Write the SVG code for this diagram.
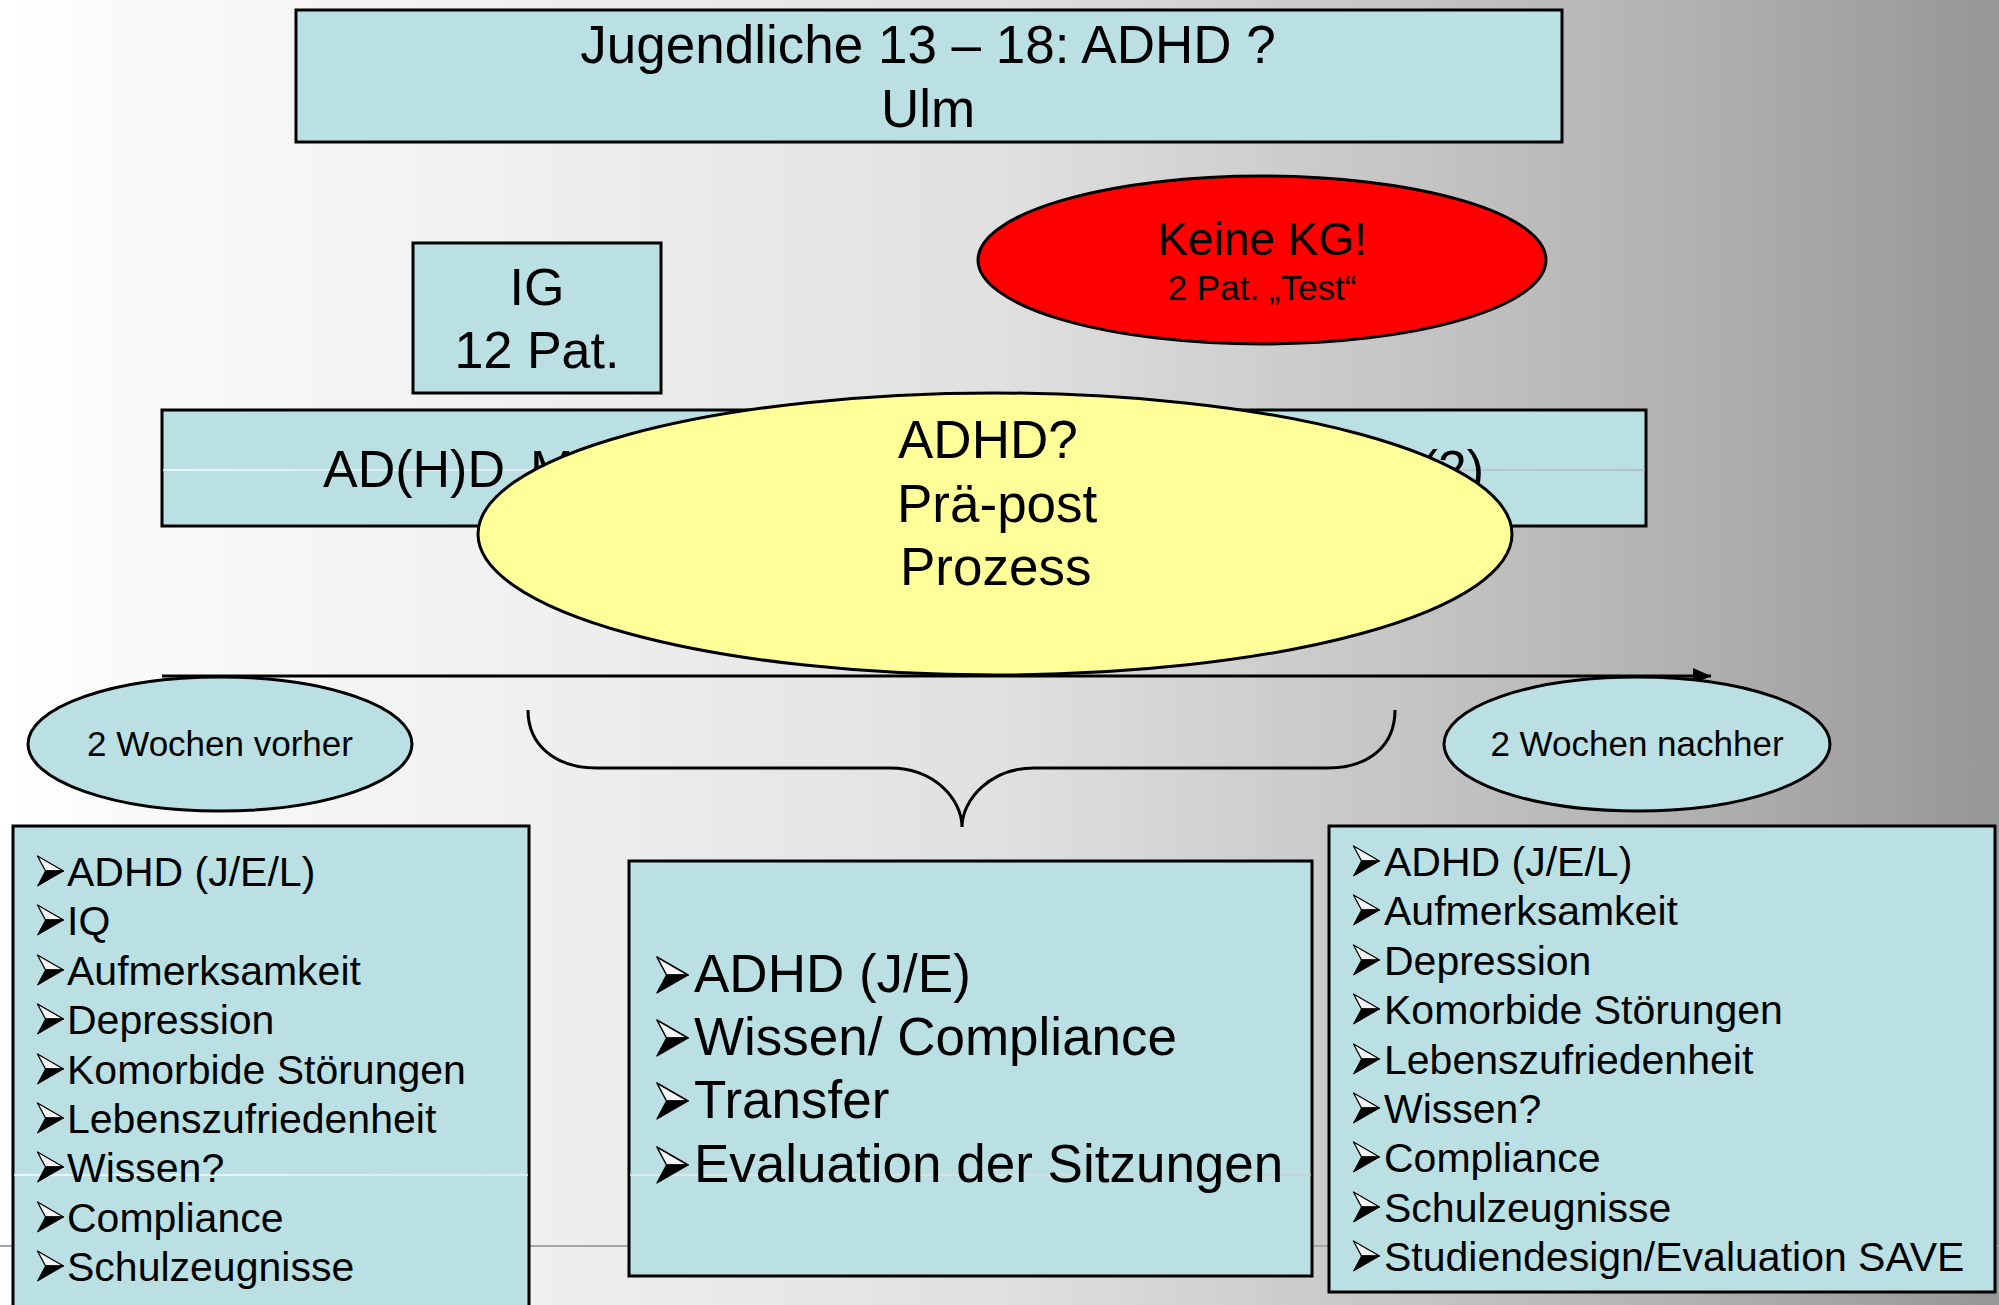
<svg xmlns="http://www.w3.org/2000/svg" xmlns:xlink="http://www.w3.org/1999/xlink" width="1999" height="1305" viewBox="0 0 1999 1305">
<style>
text{font-family:"Liberation Sans",Arial,sans-serif;fill:#000}
.box{fill:#bbe0e3;stroke:#000;stroke-width:3}
.ell{stroke:#000;stroke-width:3}
.t52{font-size:52px}
.t53{font-size:53px}
.t41{font-size:41px}
.t35{font-size:35px}
.c{text-anchor:middle}
.conn{fill:none;stroke:#000;stroke-width:3}
</style>
<defs>
<linearGradient id="bg" gradientUnits="userSpaceOnUse" x1="0" y1="0" x2="1999" y2="0">
<stop offset="0" stop-color="#ffffff"/>
<stop offset="0.05" stop-color="#fbfbfb"/>
<stop offset="0.27" stop-color="#efefef"/>
<stop offset="0.5" stop-color="#e0e0e0"/>
<stop offset="0.71" stop-color="#c4c4c4"/>
<stop offset="0.78" stop-color="#bababa"/>
<stop offset="0.85" stop-color="#b0b0b0"/>
<stop offset="1" stop-color="#969696"/>
</linearGradient>
<symbol id="bul" viewBox="0 0 26 30" overflow="visible">
<polygon points="0,0 26,15 8,15" fill="#f4f4f4" stroke="#000" stroke-width="1.3" stroke-linejoin="round"/>
<polygon points="8,15 26,15 0,30" fill="#000" stroke="#000" stroke-width="1" stroke-linejoin="round"/>
</symbol>
<marker id="arr" markerUnits="userSpaceOnUse" markerWidth="20" markerHeight="18" refX="18" refY="8" orient="auto">
<polygon points="0,0 18,8 0,16" fill="#000"/>
</marker>
</defs>
<rect x="0" y="0" width="1999" height="1305" fill="url(#bg)"/>
<line x1="0" y1="1246" x2="1999" y2="1246" stroke="#a4a4a4" stroke-width="2"/>

<g id="title">
<rect class="box" x="296" y="10" width="1266" height="132"/>
<text class="t53 c" x="928" y="63">Jugendliche 13 – 18: ADHD ?</text>
<text class="t53 c" x="928" y="127">Ulm</text>
</g>

<g id="ig">
<rect class="box" x="413" y="243" width="248" height="150"/>
<text class="t52 c" x="537" y="305">IG</text>
<text class="t52 c" x="537" y="368">12 Pat.</text>
</g>

<g id="keinekg">
<ellipse class="ell" cx="1262" cy="260" rx="284" ry="84" fill="#ff0000"/>
<text class="c" x="1262" y="255" font-size="46">Keine KG!</text>
<text class="c" x="1262" y="300" font-size="35">2 Pat. „Test“</text>
</g>

<g id="adhdmodul">
<rect class="box" x="162" y="410" width="1484" height="116"/>
<line x1="163" y1="470" x2="1645" y2="470" stroke="url(#bg)" stroke-width="1.5"/>
<text class="t52" x="323" y="487">AD(H)D<tspan x="530">M</tspan></text>
<text class="t52" x="1484" y="487" text-anchor="end">(2)</text>
</g>

<g id="praepost">
<ellipse class="ell" cx="995" cy="534" rx="517" ry="141" fill="#ffff99"/>
<text class="t53" x="898" y="458">ADHD?</text>
<text class="t53" x="897" y="522">Prä-post</text>
<text class="t53" x="900" y="585">Prozess</text>
</g>

<g id="connectors">
<line class="conn" x1="162" y1="676" x2="1711" y2="676" marker-end="url(#arr)"/>
<path class="conn" d="M528,710 C528,745 555,768 597,768 L890,768 C935,768 962,800 962,827 C962,800 990,768 1034,768 L1327,768 C1370,768 1395,745 1395,710"/>
</g>

<g id="vorher">
<ellipse class="ell" cx="220" cy="744" rx="192" ry="67" fill="#bbe0e3"/>
<text class="t35 c" x="220" y="756">2 Wochen vorher</text>
</g>

<g id="nachher">
<ellipse class="ell" cx="1637" cy="744" rx="193" ry="67" fill="#bbe0e3"/>
<text class="t35 c" x="1637" y="756">2 Wochen nachher</text>
</g>

<g id="listvorher">
<rect class="box" x="13" y="826" width="516" height="500"/>
<line x1="14" y1="1175" x2="528" y2="1175" stroke="url(#bg)" stroke-width="1.5"/>
<use href="#bul" x="37" y="856" width="27" height="30"/>
<use href="#bul" x="37" y="905" width="27" height="30"/>
<use href="#bul" x="37" y="955" width="27" height="30"/>
<use href="#bul" x="37" y="1004" width="27" height="30"/>
<use href="#bul" x="37" y="1054" width="27" height="30"/>
<use href="#bul" x="37" y="1103" width="27" height="30"/>
<use href="#bul" x="37" y="1152" width="27" height="30"/>
<use href="#bul" x="37" y="1202" width="27" height="30"/>
<use href="#bul" x="37" y="1251" width="27" height="30"/>
<text class="t41" x="67" y="886">ADHD (J/E/L)</text>
<text class="t41" x="67" y="935">IQ</text>
<text class="t41" x="67" y="985">Aufmerksamkeit</text>
<text class="t41" x="67" y="1034">Depression</text>
<text class="t41" x="67" y="1084">Komorbide Störungen</text>
<text class="t41" x="67" y="1133">Lebenszufriedenheit</text>
<text class="t41" x="67" y="1182">Wissen?</text>
<text class="t41" x="67" y="1232">Compliance</text>
<text class="t41" x="67" y="1281">Schulzeugnisse</text>
</g>

<g id="listprozess">
<rect class="box" x="629" y="861" width="683" height="415"/>
<line x1="630" y1="1175" x2="1311" y2="1175" stroke="url(#bg)" stroke-width="1.5"/>
<use href="#bul" x="655" y="957" width="35" height="36"/>
<use href="#bul" x="655" y="1020" width="35" height="36"/>
<use href="#bul" x="655" y="1083" width="35" height="36"/>
<use href="#bul" x="655" y="1147" width="35" height="36"/>
<text class="t53" x="694" y="992">ADHD (J/E)</text>
<text class="t53" x="694" y="1055">Wissen/ Compliance</text>
<text class="t53" x="694" y="1118">Transfer</text>
<text class="t53" x="694" y="1182">Evaluation der Sitzungen</text>
</g>

<g id="listnachher">
<rect class="box" x="1329" y="826" width="666" height="466"/>
<use href="#bul" x="1353" y="846" width="27" height="30"/>
<use href="#bul" x="1353" y="895" width="27" height="30"/>
<use href="#bul" x="1353" y="945" width="27" height="30"/>
<use href="#bul" x="1353" y="994" width="27" height="30"/>
<use href="#bul" x="1353" y="1044" width="27" height="30"/>
<use href="#bul" x="1353" y="1093" width="27" height="30"/>
<use href="#bul" x="1353" y="1142" width="27" height="30"/>
<use href="#bul" x="1353" y="1192" width="27" height="30"/>
<use href="#bul" x="1353" y="1241" width="27" height="30"/>
<text class="t41" x="1384" y="876">ADHD (J/E/L)</text>
<text class="t41" x="1384" y="925">Aufmerksamkeit</text>
<text class="t41" x="1384" y="975">Depression</text>
<text class="t41" x="1384" y="1024">Komorbide Störungen</text>
<text class="t41" x="1384" y="1074">Lebenszufriedenheit</text>
<text class="t41" x="1384" y="1123">Wissen?</text>
<text class="t41" x="1384" y="1172">Compliance</text>
<text class="t41" x="1384" y="1222">Schulzeugnisse</text>
<text class="t41" x="1384" y="1271">Studiendesign/Evaluation SAVE</text>
</g>
</svg>
